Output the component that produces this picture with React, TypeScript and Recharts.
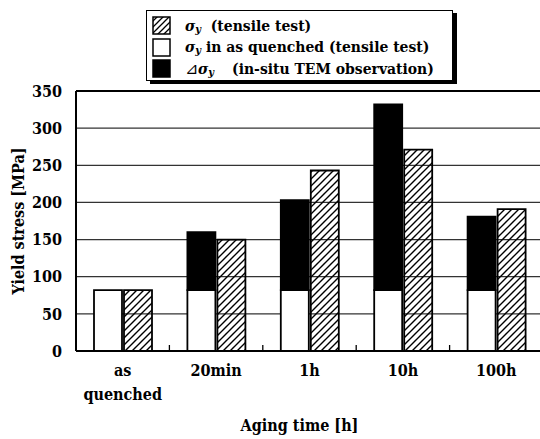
import React from 'react'
import {
  BarChart,
  Bar,
  XAxis,
  YAxis,
  CartesianGrid,
  ReferenceLine,
} from 'recharts'

const categories = ['as\nquenched', '20min', '1h', '10h', '100h']
const asQuenched = [82, 82, 82, 82, 82]
const deltaTem = [0, 78, 121, 250, 99]
const tensile = [82, 150, 243, 271, 191]
const yTicks = [0, 50, 100, 150, 200, 250, 300, 350]

const data = categories.map((name, i) => ({
  name,
  base: asQuenched[i],
  delta: deltaTem[i],
  tensile: tensile[i],
}))

const FONT = "'DejaVu Serif Condensed', 'DejaVu Serif', serif"

const CHART_W = 560
const MARGIN = { top: 91, right: 17, left: 0, bottom: 0 }
const Y_AXIS_W = 76
const HALF_BAND = (CHART_W - MARGIN.right - MARGIN.left - Y_AXIS_W) / categories.length / 2
// tick text is placed tickSize + tickMargin below the axis line
const TICK_OFFSET = 8

function CategoryTick(props: any) {
  const { x, y, payload, index } = props
  const lines = String(payload.value).split('\n')
  return (
    <g transform={`translate(${x},${y})`}>
      {index < categories.length - 1 && (
        <line
          x1={HALF_BAND}
          x2={HALF_BAND}
          y1={-TICK_OFFSET}
          y2={-TICK_OFFSET - 6}
          stroke="#000"
          strokeWidth={1.3}
        />
      )}
      {lines.map((line, i) => (
        <text
          key={i}
          x={0}
          y={17 + i * 24}
          textAnchor="middle"
          style={{ fontFamily: FONT, fontStretch: 'condensed', fontWeight: 'bold', fontSize: 16 }}
          fill="#000"
        >
          {line}
        </text>
      ))}
    </g>
  )
}

function Sigma() {
  return (
    <span style={{ fontStyle: 'italic' }}>
      σ<span style={{ fontSize: 11, verticalAlign: -2 }}>y</span>
    </span>
  )
}

function Swatch({ kind }: { kind: string }) {
  return (
    <svg width={19} height={19} style={{ display: 'block' }}>
      <defs>
        <pattern id={`lg-${kind}`} patternUnits="userSpaceOnUse" width={6} height={6}>
          <path d="M-1,1 l2,-2 M0,6 l6,-6 M5,7 l2,-2" stroke="#000" strokeWidth={1.3} />
        </pattern>
      </defs>
      <rect
        x={1}
        y={1}
        width={17}
        height={17}
        fill={kind === 'hatch' ? `url(#lg-${kind})` : kind === 'black' ? '#000' : '#fff'}
        stroke="#000"
        strokeWidth={1.5}
      />
    </svg>
  )
}

const legendItems = [
  { kind: 'hatch', label: <><Sigma />&nbsp; (tensile test)</> },
  { kind: 'white', label: <><Sigma /> in as quenched (tensile test)</> },
  { kind: 'black', label: <><span style={{ fontWeight: 'normal', fontSize: 16 }}>⊿</span><Sigma /><span style={{ marginLeft: 18 }}>(in-situ TEM observation)</span></> },
]

const textStyle = { fontFamily: FONT, fontStretch: 'condensed', fontWeight: 'bold', fontSize: 16, fill: '#000' }

export default function App() {
  return (
    <div
      style={{
        position: 'absolute',
        left: 0,
        top: 0,
        width: 540,
        height: 439,
        overflow: 'hidden',
        background: '#fff',
        fontFamily: FONT,
      }}
    >
      <BarChart
        width={CHART_W}
        height={439}
        data={data}
        margin={MARGIN}
        barGap={2}
        barSize={28}
      >
        <defs>
          <pattern id="hatch" patternUnits="userSpaceOnUse" width={7} height={7}>
            <path d="M-1,1 l2,-2 M0,7 l7,-7 M6,8 l2,-2" stroke="#000" strokeWidth={1.4} />
          </pattern>
        </defs>
        <CartesianGrid vertical={false} stroke="#333" strokeWidth={1.3} />
        <XAxis
          dataKey="name"
          height={88}
          axisLine={{ stroke: '#000', strokeWidth: 2 }}
          tickLine={false}
          tick={<CategoryTick />}
          interval={0}
          label={{
            value: 'Aging time [h]',
            position: 'insideBottom',
            offset: 8,
            dx: -10,
            style: textStyle,
          }}
        />
        <YAxis
          width={Y_AXIS_W}
          domain={[0, 350]}
          ticks={yTicks}
          tickLine={false}
          tickMargin={8}
          axisLine={{ stroke: '#000', strokeWidth: 2 }}
          tick={textStyle}
          label={{
            value: 'Yield stress  [MPa]',
            angle: -90,
            position: 'insideLeft',
            offset: 18,
            style: { ...textStyle, textAnchor: 'middle' },
          }}
        />
        <ReferenceLine y={350} stroke="#000" strokeWidth={2} />
        <Bar dataKey="base" stackId="a" fill="#fff" stroke="#000" strokeWidth={1.8} isAnimationActive={false} />
        <Bar dataKey="delta" stackId="a" fill="#000" stroke="#000" strokeWidth={1.8} isAnimationActive={false} />
        <Bar dataKey="tensile" fill="url(#hatch)" stroke="#000" strokeWidth={1.8} isAnimationActive={false} />
      </BarChart>

      <div
        style={{
          position: 'absolute',
          left: 146,
          top: 10,
          width: 305,
          height: 69,
          border: '1.5px solid #000',
          boxShadow: '4px 3px 0 #000',
          background: '#fff',
          fontFamily: FONT,
          fontStretch: 'condensed',
          fontWeight: 'bold',
          fontSize: 15.5,
          color: '#000',
        }}
      >
        {legendItems.map((item, i) => (
          <div
            key={i}
            style={{
              position: 'absolute',
              left: 5,
              top: 5 + i * 21.5,
              display: 'flex',
              alignItems: 'center',
              gap: 14,
              whiteSpace: 'nowrap',
              height: 19,
            }}
          >
            <Swatch kind={item.kind} />
            <span>{item.label}</span>
          </div>
        ))}
      </div>
    </div>
  )
}
